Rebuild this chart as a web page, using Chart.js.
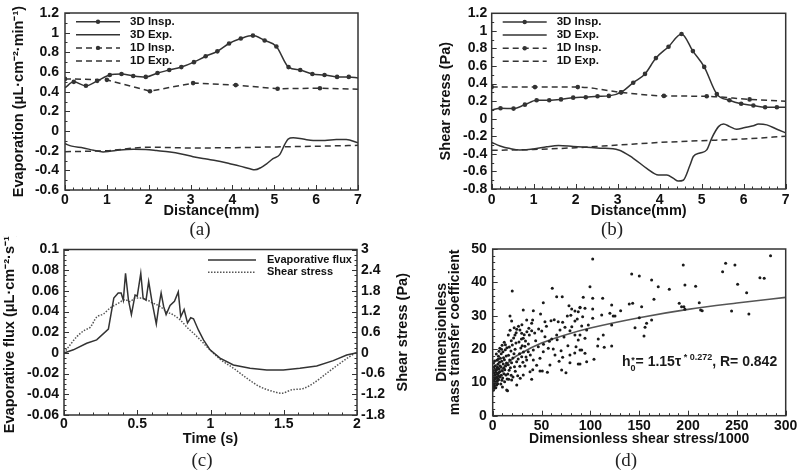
<!DOCTYPE html>
<html>
<head>
<meta charset="utf-8">
<script src="https://cdn.jsdelivr.net/npm/chart.js@4.4.1/dist/chart.umd.min.js"></script>
<style>
  html,body{margin:0;padding:0;background:#fff;}
  #wrap{position:relative;width:800px;height:472px;overflow:hidden;background:#fff;}
  canvas{position:absolute;}
  .cap{position:absolute;font:19px 'Liberation Serif','Times New Roman',serif;color:#222;transform:translate(-50%,-50%);}
  #eq{position:absolute;left:622px;top:352px;font:bold 14px 'Liberation Sans',Arial,sans-serif;color:#1a1a1a;white-space:nowrap;}
</style>
</head>
<body>
<div id="wrap">
  <canvas id="ca" width="400" height="236" style="left:0;top:0;width:400px;height:236px"></canvas>
  <canvas id="cb" width="400" height="236" style="left:400px;top:0;width:400px;height:236px"></canvas>
  <canvas id="cc" width="420" height="236" style="left:0;top:236px;width:420px;height:236px"></canvas>
  <canvas id="cd" width="400" height="236" style="left:400px;top:236px;width:400px;height:236px"></canvas>
  <div class="cap" style="left:200px;top:229px">(a)</div>
  <div class="cap" style="left:612px;top:229px">(b)</div>
  <div class="cap" style="left:202px;top:460px">(c)</div>
  <div class="cap" style="left:626px;top:460px">(d)</div>
  <div id="eq">h<span style="display:inline-block;font-size:9px;line-height:8px;vertical-align:-5px;text-align:center;">*<br>0</span>= 1.15τ<span style="font-size:9px;vertical-align:6px;">&nbsp;* 0.272</span>, R= 0.842</div>
</div>
<script>
// ---------- Panel (a): Evaporation vs distance ----------
const aInspX = [0,0.21,0.5,0.77,1.07,1.35,1.63,1.93,2.21,2.49,2.78,3.08,3.36,3.64,3.92,4.2,4.49,4.77,5.05,5.34,5.62,5.91,6.2,6.5,6.78,7];
const aInspY = [0.44,0.50,0.46,0.51,0.57,0.58,0.56,0.55,0.59,0.62,0.65,0.70,0.76,0.81,0.89,0.94,0.97,0.92,0.86,0.65,0.62,0.58,0.57,0.55,0.55,0.54];
const aExpX = [0,0.16,0.44,0.68,0.91,1.07,1.31,1.63,1.93,2.19,2.51,2.78,3.06,3.38,3.62,3.94,4.18,4.42,4.53,4.69,4.81,4.97,5.13,5.25,5.33,5.45,5.69,5.93,6.21,6.48,6.72,7];
const aExpY = [-0.13,-0.154,-0.172,-0.196,-0.213,-0.206,-0.192,-0.185,-0.189,-0.199,-0.213,-0.233,-0.261,-0.285,-0.302,-0.333,-0.357,-0.384,-0.395,-0.37,-0.336,-0.281,-0.24,-0.137,-0.082,-0.069,-0.082,-0.096,-0.096,-0.086,-0.086,-0.12];
const a1DInspX = [0,1.0,2.03,3.06,4.08,5.08,6.09,7];
const a1DInspY = [0.53,0.52,0.405,0.487,0.467,0.43,0.435,0.425];
const a1DExpX = [0,1,2,3,4,5,6,7];
const a1DExpY = [-0.21,-0.2,-0.165,-0.172,-0.17,-0.162,-0.155,-0.146];

// ---------- Panel (b): Shear stress vs distance ----------
const bInspX = [0,0.21,0.52,0.79,1.07,1.37,1.65,1.94,2.24,2.52,2.79,3.08,3.37,3.65,3.91,4.21,4.52,4.79,5.06,5.36,5.66,5.94,6.23,6.51,6.79,7];
const bInspY = [0.10,0.12,0.115,0.16,0.21,0.21,0.22,0.24,0.245,0.255,0.26,0.30,0.41,0.51,0.69,0.82,0.965,0.77,0.59,0.28,0.21,0.17,0.15,0.13,0.13,0.13];
const bExpX = [0,0.2,0.44,0.67,0.99,1.31,1.59,1.94,2.26,2.58,3.02,3.37,3.69,3.97,4.17,4.33,4.44,4.56,4.72,4.8,4.96,5.12,5.24,5.4,5.52,5.67,5.83,6.03,6.23,6.35,6.55,6.79,7];
const bExpY = [-0.27,-0.31,-0.34,-0.355,-0.345,-0.32,-0.305,-0.315,-0.325,-0.335,-0.355,-0.45,-0.565,-0.64,-0.64,-0.68,-0.71,-0.70,-0.53,-0.43,-0.39,-0.355,-0.22,-0.09,-0.06,-0.09,-0.12,-0.10,-0.08,-0.06,-0.07,-0.12,-0.16];
const b1DInspX = [0,1.03,2.05,3.08,4.1,5.12,6.14,7];
const b1DInspY = [0.36,0.36,0.36,0.30,0.26,0.255,0.22,0.20];
const b1DExpX = [0,1,2,3,4,5,6,7];
const b1DExpY = [-0.36,-0.35,-0.33,-0.30,-0.27,-0.25,-0.23,-0.20];

// ---------- Panel (c): flux and shear vs time ----------
const cTimeE = [0,0.064,0.155,0.223,0.303,0.34,0.37,0.39,0.405,0.42,0.44,0.46,0.485,0.50,0.524,0.54,0.56,0.578,0.60,0.63,0.645,0.663,0.68,0.697,0.724,0.754,0.78,0.797,0.82,0.843,0.865,0.884,0.918,0.952,0.997,1.065,1.156,1.27,1.384,1.497,1.61,1.725,1.838,1.93,2.0];
const cFlux = [0,0.003,0.0094,0.0126,0.023,0.053,0.058,0.058,0.051,0.077,0.051,0.037,0.056,0.055,0.077,0.053,0.051,0.069,0.05,0.028,0.043,0.058,0.045,0.037,0.046,0.05,0.059,0.035,0.042,0.029,0.034,0.033,0.022,0.0126,0.003,-0.005,-0.0116,-0.0148,-0.0164,-0.0164,-0.0148,-0.0126,-0.0074,-0.002,0.0003];
const cTimeS = [0,0.041,0.087,0.144,0.178,0.223,0.269,0.314,0.371,0.417,0.451,0.485,0.52,0.565,0.61,0.656,0.70,0.747,0.793,0.838,0.884,0.93,0.975,1.065,1.156,1.247,1.338,1.429,1.486,1.554,1.634,1.702,1.793,1.884,1.952,2.0];
const cShear = [0,0.23,0.47,0.67,0.74,1.04,1.13,1.3,1.44,1.54,1.49,1.59,1.59,1.54,1.44,1.35,1.2,1.1,0.96,0.75,0.57,0.38,0.18,-0.18,-0.44,-0.73,-0.98,-1.12,-1.17,-1.07,-1.03,-0.88,-0.59,-0.3,-0.1,0.02];

// ---------- Panel (d): scatter + fit ----------
const dScatter = [
 [102.4,47.0],[142.3,42.5],[150.1,41.9],[195.1,45.2],[162.7,40.7],[99.6,38.7],[169.5,38.7],[180.8,37.9],[196.8,39.2],[92.7,35.5],
 [102.4,35.2],[112.6,35.2],[89.4,32.5],[94.5,32.2],[102.4,32.0],[121.8,33.2],[131,31.5],[139.8,33.5],[143.3,33.7],[152.5,32.7],
 [165.1,34.9],[191,33.7],[193.4,32.7],[120,30.7],[123.4,29.9],[125.2,29.9],[111.6,30.2],[102.4,29.2],[92.1,29.7],[150.1,29.4],
 [121.8,27.2],[91.1,26.9],[97.9,27.2],[145.7,26.4],[156,26.5],[162.7,28.7],[157.6,27.7],[154.9,23.9],[96.2,25.7],[94.5,23.2],
 [89.4,24.2],[113.2,24.2],[108.1,23.0],[107.5,20.9],[114.2,20.5],[121.8,20.9],[91.1,19.7],[94.5,18.7],[96.2,16.2],[103.7,16.9],[89.4,15.5],
 [284.5,48.0],[238.5,45.7],[248,45.2],[235.4,43.2],[273.6,41.4],[278,41.2],[207.8,38.8],[250.8,39.4],[260,36.9],[211.5,33.9],
 [195.8,32.7],[196.8,31.9],[212.9,31.7],[214.5,31.5],[244.6,31.4],[262.3,30.5],
 [20,37.4],[61,38.2],[51.8,33.9],[31.3,31.7],[41.6,31.5],[71.2,35.7],[65.5,35.7],[78.1,33.0],[80.9,32.0],[84.2,31.4],
 [89.4,32.4],[87.6,31.2],[76.4,29.9],[17.7,29.9],[19.4,28.4],[34.8,28.7],[40.9,28.7],[39.9,27.7],[53.5,28.2],[59.7,28.5],
 [67.1,28.2],[71.6,28.0],[84.2,28.4],[86.6,29.0],[24.6,25.9],[27.9,25.7],[29.7,24.7],[22.8,24.2],[16,24.2],[31.3,23.2],
 [37.5,24.2],[39.9,25.5],[50.2,25.4],[53.5,23.7],[60.4,23.0],[65.5,24.2],[68.9,25.7],[74,26.5],[79.1,25.5],[84.2,24.2],
 [87.6,22.7],[85.3,20.7],[89.4,19.7],[79.1,18.2],[71.6,17.5],[63.8,18.2],[56.9,20.2],[51.8,19.2],[46.7,20.7],[41.6,19.7],
 [36.4,19.2],[48.4,17.2],[41.6,16.7],[34.8,16.7],[29.7,17.7],[58.6,15.2],[48.4,13.4],[50.8,13.4],[38.2,13.2],[31.3,12.2],
 [39.9,10.9],[19.4,10.7],[24.6,9.2],[14.3,7.7],[70.6,13.7],[79.1,15.9],[87.6,15.5],
 [44,22.5],[47,26.0],[52,21.4],[55,26.8],[58,22.3],[62,20.0],[66,22.8],[70,19.5],[73,23.6],[77,21.0],[81,26.7],[84,18.8],
 [45,15.1],[56,13.0],[68,16.3],[75,12.9],[43,24.8],[36.5,21.5],[38.5,18.2],[41,13.8],[33,14.9],[37,26.2],[49,30.5],[63,28.8],[80,30.1],
 [0.6,7.6],[1.2,8.1],[0.8,8.7],[1.8,9.0],[0.5,9.4],[1.4,9.8],[2.2,10.1],[0.9,10.5],[1.7,10.9],[2.6,11.2],[0.7,11.6],[1.5,12.0],
 [2.4,12.3],[1.1,12.8],[3.0,13.0],[0.6,13.5],[2.0,13.9],[1.3,14.6],[2.8,15.0],[0.9,15.8],[1.9,16.4],
 [3.2,8.4],[4.1,9.2],[3.6,10.0],[4.8,10.4],[5.5,11.0],[3.9,11.5],[6.2,11.8],[4.5,12.4],[5.8,12.9],[7.1,13.2],[3.4,13.6],[6.6,14.0],
 [4.9,14.5],[7.6,14.9],[5.3,15.4],[6.9,16.0],[4.2,16.6],[7.9,17.2],[5.9,17.8],[3.7,18.5],[6.4,19.3],[7.3,20.2],[5.1,9.6],[6.0,10.8],
 [7.5,11.6],[4.4,13.9],[5.6,16.9],
 [8.3,9.5],[9.4,10.6],[10.2,11.3],[8.8,12.1],[11.5,12.6],[9.9,13.4],[12.4,13.8],[8.5,14.6],[13.2,14.9],[10.8,15.5],[14.1,15.8],
 [9.2,16.3],[12.0,16.8],[11.1,17.4],[13.8,17.9],[8.7,18.6],[10.5,19.2],[12.9,19.8],[14.6,20.4],[9.6,21.1],[11.8,22.0],[13.5,12.2],
 [10.0,8.6],[14.8,11.0],[12.2,10.2],[9.0,19.9],[11.4,14.2],[13.0,21.3],
 [15.5,12.5],[16.8,13.6],[18.1,14.4],[15.9,15.3],[19.3,15.9],[17.4,16.7],[20.6,17.3],[16.2,18.1],[21.8,18.6],[18.7,19.4],[22.9,19.9],
 [17.0,20.6],[20.1,21.2],[23.8,21.8],[19.0,22.5],[21.4,23.3],[24.5,16.2],[22.3,14.7],[16.4,10.9],[18.9,12.1],[23.1,13.3],[20.8,11.6],
 [15.2,7.5],[24.0,24.9],[17.8,25.6],[22.0,26.4],
 [26.1,17.0],[27.5,18.6],[28.8,20.3],[30.2,21.0],[26.9,22.1],[31.5,19.1],[33.0,20.8],[29.4,23.0],[32.3,24.3],[27.8,14.8],[30.9,16.0],
 [34.1,17.6],[25.6,12.0],[28.2,11.2],[33.6,22.4],[35.0,25.2],[26.4,26.8],[29.9,27.3]
];
const dFitX = [1,2,5,10,20,30,50,75,100,150,200,250,300];
const dFitY = [7.5,9.1,11.7,14.1,17.0,18.9,21.8,24.3,26.3,29.4,31.9,33.8,35.5];

// ---------- common helpers ----------
const FONT = "'Liberation Sans', Arial, sans-serif";
Chart.defaults.font.family = FONT;
Chart.defaults.color = '#111';
const LINE = '#333';
const zip = (xs, ys) => xs.map((x, i) => ({x, y: ys[i]}));
const fmt = v => String(parseFloat(Number(v).toFixed(4)));
const tickFont = {size: 14, weight: 'bold'};
const titleFont = {size: 14.5, weight: 'bold'};
const noGrid = {display: false, drawTicks: false};

const framePlugin = {
  id: 'frame',
  afterDraw(chart, args, o) {
    const {ctx, chartArea: a} = chart;
    ctx.save();
    ctx.strokeStyle = '#333';
    ctx.lineWidth = 1.5;
    ctx.strokeRect(a.left, a.top, a.right - a.left, a.bottom - a.top);
    ctx.lineWidth = 1;
    const minor = (o && o.minor) || {};
    for (const id in chart.scales) {
      const s = chart.scales[id];
      const sub = minor[id] || 1;
      const vals = s.ticks.map(t => t.value);
      const draw = (v, len) => {
        const p = Math.round(s.getPixelForValue(v)) + 0.5;
        ctx.beginPath();
        if (s.position === 'left') { ctx.moveTo(a.left, p); ctx.lineTo(a.left + len, p); }
        else if (s.position === 'right') { ctx.moveTo(a.right, p); ctx.lineTo(a.right - len, p); }
        else { ctx.moveTo(p, a.bottom); ctx.lineTo(p, a.bottom - len); }
        ctx.stroke();
      };
      vals.forEach((v, i) => {
        draw(v, 5);
        if (i < vals.length - 1) for (let k = 1; k < sub; k++) draw(v + (vals[i + 1] - v) * k / sub, 2.5);
      });
    }
    ctx.restore();
  }
};

const legendPlugin = {
  id: 'lgd',
  afterDraw(chart, args, o) {
    if (!o || !o.show) return;
    const {ctx, chartArea: a} = chart;
    const bx = o.fromRight ? a.right : a.left;
    let row = 0;
    chart.data.datasets.forEach(ds => {
      if (ds.noLegend) return;
      const y = a.top + o.y0 + o.dy * row++;
      ctx.save();
      ctx.strokeStyle = ds.borderColor;
      ctx.lineWidth = ds.borderWidth;
      ctx.setLineDash(ds.borderDash || []);
      ctx.beginPath(); ctx.moveTo(bx + o.x0, y); ctx.lineTo(bx + o.x1, y); ctx.stroke();
      if (ds.legendMarker) {
        ctx.fillStyle = ds.borderColor;
        ctx.beginPath(); ctx.arc(bx + (o.x0 + o.x1) / 2, y, 2.2, 0, Math.PI * 2); ctx.fill();
      }
      ctx.fillStyle = '#111';
      ctx.font = o.font;
      ctx.textBaseline = 'middle';
      ctx.textAlign = 'left';
      ctx.fillText(ds.label, bx + o.tx, y);
      ctx.restore();
    });
  }
};

const rightTitlePlugin = {
  id: 'rtitle',
  afterDraw(chart, args, o) {
    if (!o || !o.text) return;
    const {ctx, chartArea: a} = chart;
    ctx.save();
    ctx.translate(a.right + o.dx, (a.top + a.bottom) / 2);
    ctx.rotate(-Math.PI / 2);
    ctx.font = 'bold 14.5px ' + FONT;
    ctx.fillStyle = '#111';
    ctx.textAlign = 'center';
    ctx.textBaseline = 'middle';
    ctx.fillText(o.text, 0, 0);
    ctx.restore();
  }
};

function fixX(h) { return s => { s.height = h; s.paddingLeft = 0; s.paddingRight = 0; }; }
function fixY(w) { return s => { s.width = w; s.paddingTop = 0; s.paddingBottom = 0; }; }

function lineDs(label, xs, ys, opts) {
  return Object.assign({
    label, data: zip(xs, ys), borderColor: LINE, backgroundColor: LINE, borderWidth: 1.5,
    pointRadius: 0, pointBorderWidth: 0, fill: false, cubicInterpolationMode: 'monotone'
  }, opts);
}
const mk3D = ctx => (ctx.dataIndex === 0 || ctx.dataIndex === ctx.dataset.data.length - 1) ? 0 : 2.3;
const mk1D = ctx => (ctx.dataIndex === ctx.dataset.data.length - 1) ? 0 : 2.3;

function distChart(id, dsList, yMin, yMax, yTitle, pad, yW, xH, yTitlePad, xTitlePad, ytPad, xtPad) {
  return new Chart(document.getElementById(id), {
    type: 'line',
    data: {datasets: dsList},
    options: {
      responsive: false, animation: false, devicePixelRatio: 1,
      layout: {padding: pad},
      plugins: {legend: {display: false}, tooltip: {enabled: false},
        frame: {minor: {x: 5, y: 2}},
        lgd: {show: true, x0: 11, x1: 55, tx: 65, y0: 8.7, dy: 13.1, font: 'bold 11.5px ' + FONT}},
      scales: {
        x: {type: 'linear', position: 'bottom', min: 0, max: 7,
            ticks: {stepSize: 1, font: tickFont, padding: xtPad, callback: fmt, maxRotation: 0, autoSkip: false},
            grid: noGrid, border: {display: false},
            title: {display: true, text: 'Distance(mm)', font: titleFont, padding: {top: 0, bottom: xTitlePad}},
            afterFit: fixX(xH)},
        y: {type: 'linear', position: 'left', min: yMin, max: yMax,
            ticks: {stepSize: 0.2, font: tickFont, padding: ytPad, callback: fmt, autoSkip: false},
            grid: noGrid, border: {display: false},
            title: {display: true, text: yTitle, font: titleFont, padding: {top: yTitlePad, bottom: 0}},
            afterFit: fixY(yW)}
      }
    },
    plugins: [framePlugin, legendPlugin]
  });
}

// (a)
distChart('ca', [
  lineDs('3D Insp.', aInspX, aInspY, {pointRadius: mk3D, legendMarker: true}),
  lineDs('3D Exp.', aExpX, aExpY, {}),
  lineDs('1D Insp.', a1DInspX, a1DInspY, {pointRadius: mk1D, borderDash: [6, 4], legendMarker: true, cubicInterpolationMode: 'default', tension: 0}),
  lineDs('1D Exp.', a1DExpX, a1DExpY, {borderDash: [6, 4]})
], -0.6, 1.2, 'Evaporation (\u03bcL\u00b7cm\u207b\u00b2\u00b7min\u207b\u00b9)',
  {top: 13, right: 42, left: 0, bottom: 0}, 65, 46, 10, 16.3, 6, 1.5);

// (b)
distChart('cb', [
  lineDs('3D Insp.', bInspX, bInspY, {pointRadius: mk3D, legendMarker: true}),
  lineDs('3D Exp.', bExpX, bExpY, {}),
  lineDs('1D Insp.', b1DInspX, b1DInspY, {pointRadius: mk1D, borderDash: [6, 4], legendMarker: true}),
  lineDs('1D Exp.', b1DExpX, b1DExpY, {borderDash: [6, 4]})
], -0.8, 1.2, 'Shear stress (Pa)',
  {top: 13.3, right: 14.3, left: 0, bottom: 0}, 91.7, 47, 37.6, 16.6, 4.5, 2.5);

// (c)
new Chart(document.getElementById('cc'), {
  type: 'line',
  data: {datasets: [
    lineDs('Evaporative flux', cTimeE, cFlux, {yAxisID: 'y', cubicInterpolationMode: 'default', tension: 0}),
    lineDs('Shear stress', cTimeS, cShear, {yAxisID: 'y2', borderDash: [1.5, 1.5], borderColor: '#555', borderWidth: 1.5})
  ]},
  options: {
    responsive: false, animation: false, devicePixelRatio: 1,
    layout: {padding: {top: 13.5, right: 0, left: 0, bottom: 0}},
    plugins: {legend: {display: false}, tooltip: {enabled: false},
      frame: {minor: {x: 5, y: 4, y2: 4}},
      lgd: {show: true, fromRight: true, x0: -149, x1: -101, tx: -90, y0: 10.5, dy: 12.3, font: 'bold 11px ' + FONT},
      rtitle: {text: 'Shear stress (Pa)', dx: 46}},
    scales: {
      x: {type: 'linear', position: 'bottom', min: 0, max: 2,
          ticks: {stepSize: 0.5, font: tickFont, padding: 1, callback: fmt, maxRotation: 0, autoSkip: false},
          grid: noGrid, border: {display: false},
          title: {display: true, text: 'Time (s)', font: titleFont, padding: {top: 0, bottom: 24}},
          afterFit: fixX(57)},
      y: {type: 'linear', position: 'left', min: -0.06, max: 0.1,
          ticks: {stepSize: 0.02, font: tickFont, padding: 5, callback: fmt, autoSkip: false},
          grid: noGrid, border: {display: false},
          title: {display: true, text: 'Evaporative flux (\u03bcL\u00b7cm\u207b\u00b2\u00b7s\u207b\u00b9)', font: titleFont, padding: {top: 1, bottom: 0}},
          afterFit: fixY(64)},
      y2: {type: 'linear', position: 'right', min: -1.8, max: 3,
          ticks: {stepSize: 0.6, font: tickFont, padding: 4, callback: fmt, autoSkip: false},
          grid: noGrid, border: {display: false},
          afterFit: fixY(63)}
    }
  },
  plugins: [framePlugin, legendPlugin, rightTitlePlugin]
});

// (d)
new Chart(document.getElementById('cd'), {
  type: 'scatter',
  data: {datasets: [
    {label: 'data', data: dScatter.map(p => ({x: p[0], y: p[1]})), pointRadius: 1.5, pointBorderWidth: 0,
     backgroundColor: '#1a1a1a', borderColor: '#1a1a1a', showLine: false},
    {type: 'line', label: 'fit', data: zip(dFitX, dFitY), borderColor: '#555', borderWidth: 1.6, pointRadius: 0,
     showLine: true, fill: false, cubicInterpolationMode: 'monotone'}
  ]},
  options: {
    responsive: false, animation: false, devicePixelRatio: 1,
    layout: {padding: {top: 13, right: 14.3, left: 0, bottom: 0}},
    plugins: {legend: {display: false}, tooltip: {enabled: false}, frame: {minor: {x: 5, y: 5}}},
    scales: {
      x: {type: 'linear', position: 'bottom', min: 0, max: 300,
          ticks: {stepSize: 50, font: tickFont, padding: 2.5, maxRotation: 0, autoSkip: false},
          grid: noGrid, border: {display: false},
          title: {display: true, text: 'Dimensionless shear stress/1000', font: {size: 14, weight: 'bold'}, padding: {top: 0, bottom: 24}},
          afterFit: fixX(56.3)},
      y: {type: 'linear', position: 'left', min: 0, max: 50,
          ticks: {stepSize: 10, font: tickFont, padding: 6, autoSkip: false},
          grid: noGrid, border: {display: false},
          title: {display: true, text: ['Dimensionless', 'mass transfer coefficient'], font: {size: 14, weight: 'bold', lineHeight: 0.97}, padding: {top: 35, bottom: 0}},
          afterFit: fixY(92.7)}
    }
  },
  plugins: [framePlugin]
});
</script>
</body>
</html>
